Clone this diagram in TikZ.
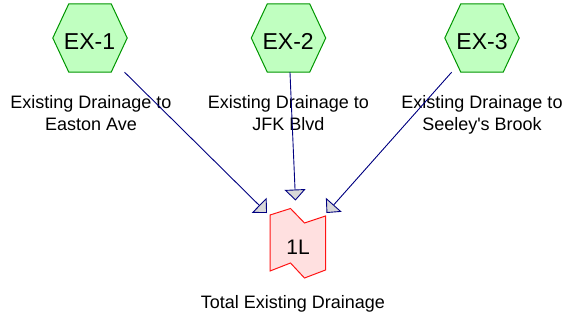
\documentclass[tikz,border=0pt]{standalone}
\usepackage{fontspec}
\setmainfont{Liberation Sans}
\usetikzlibrary{arrows.meta}
\definecolor{hexfill}{RGB}{192,255,192}
\definecolor{hexdraw}{RGB}{0,150,0}
\definecolor{pondfill}{RGB}{255,224,224}
\definecolor{ponddraw}{RGB}{255,20,20}
\definecolor{navyline}{RGB}{0,0,128}
\definecolor{tipfill}{RGB}{216,216,216}
\tikzset{
  hexbox/.style={rectangle, draw=none, minimum width=74pt, minimum height=68pt, inner sep=0pt},
  hexline/.style={draw=hexdraw, fill=hexfill, line width=1pt, line join=miter},
  pondline/.style={draw=ponddraw, fill=pondfill, line width=1pt},
  bigtxt/.style={inner sep=0pt, font=\fontsize{23}{26}\selectfont},
  pondtxt/.style={inner sep=0pt, font=\fontsize{21}{24}\selectfont},
  lbl/.style={anchor=north, inner sep=0pt, align=center, font=\fontsize{18}{22.5}\selectfont},
  flow/.style={draw=navyline, line width=0.9pt, -{Triangle[length=11pt,width=21pt,fill=tipfill,line width=0.9pt]}}
}
\begin{document}
\begin{tikzpicture}[x=1pt,y=-1pt]
\useasboundingbox (0,0) rectangle (567,322);
% hexagons
\node[hexbox] (e1) at (90,38) {};
\node[hexbox] (e2) at (288.5,38) {};
\node[hexbox] (e3) at (482,38) {};
\foreach \n in {e1,e2,e3}{
  \draw[hexline] (\n.west) -- ([xshift=16pt]\n.south west) -- ([xshift=-16pt]\n.south east) -- (\n.east) -- ([xshift=-16pt]\n.north east) -- ([xshift=16pt]\n.north west) -- cycle;
}
\node[bigtxt] (e1t) at (89.5,41.7) {EX-1};
\node[bigtxt] (e2t) at (288.2,41.7) {EX-2};
\node[bigtxt] (e3t) at (482,41.7) {EX-3};
% pond
\coordinate (c1) at (298,243);
\draw[pondline, shift={(c1)}] (-28,-28) -- (-7.5,-34.5) -- (6.5,-20) -- (27.5,-27) -- (27.5,27) -- (6.5,35) -- (-7.5,20) -- (-28,28) -- cycle;
\node[pondtxt] (n1) at (298,247) {1L};
% labels
\node[lbl] (l1) at (91,94.8) {Existing Drainage to\\Easton Ave};
\node[lbl] (l2) at (288.5,94.8) {Existing Drainage to\\JFK Blvd};
\node[lbl] (l3) at (482,94.8) {Existing Drainage to\\Seeley\textquotesingle s Brook};
\node[lbl] (l4) at (293,295) {Total Existing Drainage};
% connectors
\coordinate (t1) at (267,213);
\coordinate (t2) at (295.5,200.5);
\coordinate (t3) at (326.5,213);
\draw[flow] (e1) -- (t1);
\draw[flow] (e2) -- (t2);
\draw[flow] (e3) -- (t3);
\end{tikzpicture}
\end{document}
